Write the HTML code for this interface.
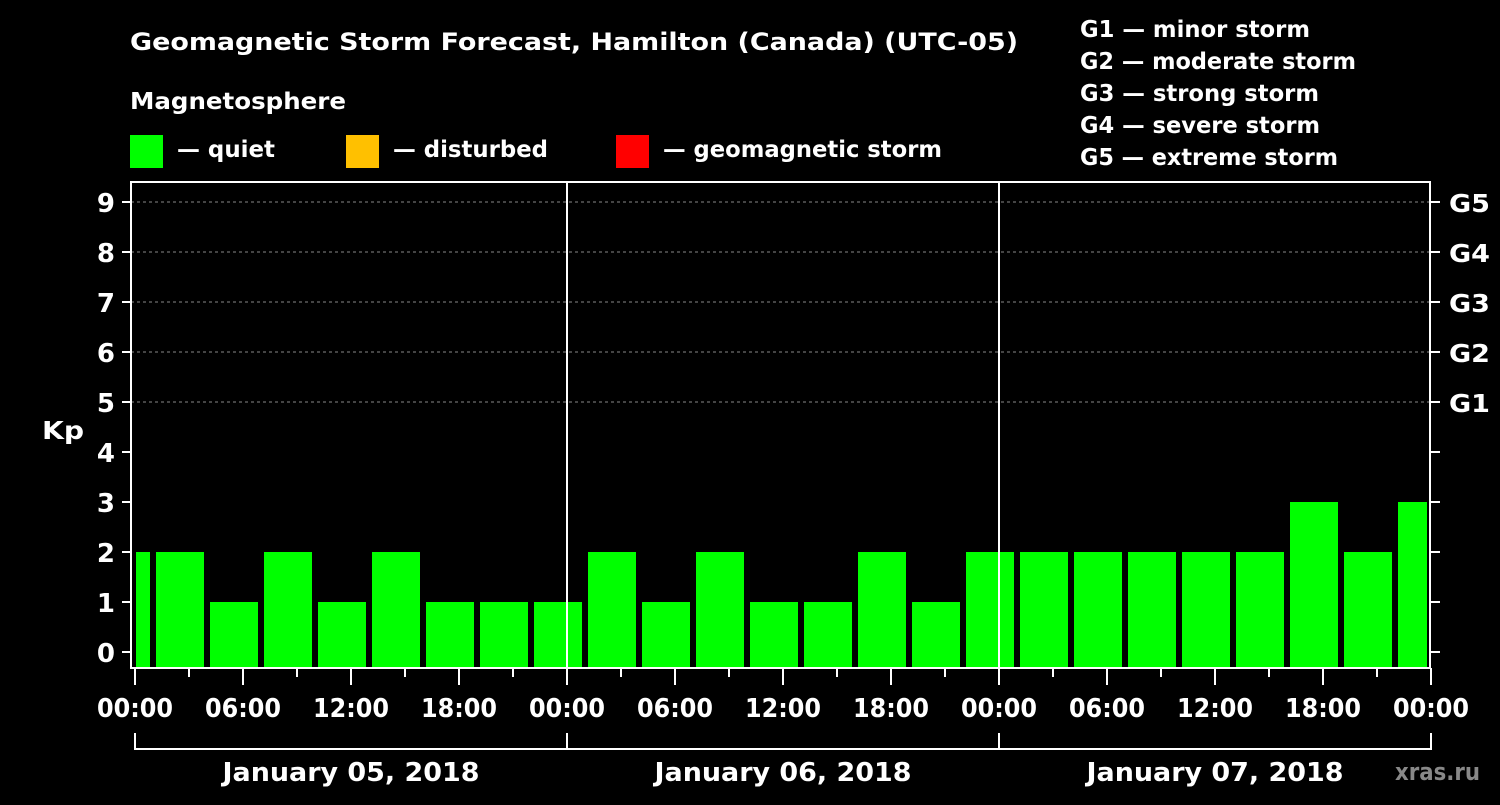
<!DOCTYPE html>
<html><head><meta charset="utf-8"><style>
body{margin:0;background:#000;width:1500px;height:800px;overflow:hidden}
svg text{font-family:"DejaVu Sans","Liberation Sans",sans-serif;font-weight:bold;fill:#fff}
</style></head><body>
<svg id="c" width="1500" height="800">
<text x="130" y="50" font-size="24" textLength="888" lengthAdjust="spacingAndGlyphs">Geomagnetic Storm Forecast, Hamilton (Canada) (UTC-05)</text>
<text x="130" y="109" font-size="23" textLength="216" lengthAdjust="spacingAndGlyphs">Magnetosphere</text>
<g>
<rect x="130" y="135" width="33" height="33" fill="#00ff00"/>
<text x="177" y="157" font-size="23" textLength="98" lengthAdjust="spacingAndGlyphs">— quiet</text>
<rect x="346" y="135" width="33" height="33" fill="#ffc000"/>
<text x="393" y="157" font-size="23" textLength="155" lengthAdjust="spacingAndGlyphs">— disturbed</text>
<rect x="616" y="135" width="33" height="33" fill="#ff0000"/>
<text x="663" y="157" font-size="23" textLength="279" lengthAdjust="spacingAndGlyphs">— geomagnetic storm</text>
</g>
<g font-size="23">
<text x="1080" y="37" textLength="230" lengthAdjust="spacingAndGlyphs">G1 — minor storm</text>
<text x="1080" y="69" textLength="276" lengthAdjust="spacingAndGlyphs">G2 — moderate storm</text>
<text x="1080" y="101" textLength="239" lengthAdjust="spacingAndGlyphs">G3 — strong storm</text>
<text x="1080" y="133" textLength="240" lengthAdjust="spacingAndGlyphs">G4 — severe storm</text>
<text x="1080" y="165" textLength="258" lengthAdjust="spacingAndGlyphs">G5 — extreme storm</text>
</g>
<text x="1395" y="780" font-size="24" textLength="85" lengthAdjust="spacingAndGlyphs" style="fill:#888">xras.ru</text>
<g id="plot"></g>
</svg>
<script>
const kpValues=[2,2,1,2,1,2,1,1,1,2,1,2,1,1,2,1,2,2,2,2,2,2,3,2,3];
const yTicks=[0,1,2,3,4,5,6,7,8,9];
const gLabels=["G1","G2","G3","G4","G5"];
const hourLabels=["00:00","06:00","12:00","18:00","00:00","06:00","12:00","18:00","00:00","06:00","12:00","18:00","00:00"];
const dayLabels=["January 05, 2018","January 06, 2018","January 07, 2018"];
const NS="http://www.w3.org/2000/svg";
const g=document.getElementById('plot');
const X0=135,PX_H=18,L=131,R=1430,T=182,B=668;
const xh=h=>X0+h*PX_H;
const yv=v=>652-v*50;
function el(t,a,txt){const e=document.createElementNS(NS,t);for(const k in a)e.setAttribute(k,a[k]);if(txt!==undefined)e.textContent=txt;g.appendChild(e);return e;}
yTicks.forEach(v=>{
 if(v>=5){const e=el('line',{x1:L,x2:R,y1:yv(v),y2:yv(v),stroke:'#888','stroke-dasharray':'3,3','stroke-width':1});
 
 }
 const t=el('line',{x1:122,x2:L,y1:yv(v),y2:yv(v),stroke:'#fff','stroke-width':2});
 
 
 const t2=el('line',{x1:R,x2:1440,y1:yv(v),y2:yv(v),stroke:'#fff','stroke-width':2});
 
 
 const lb=el('text',{x:115,y:yv(v)+10,'font-size':26,'text-anchor':'end'},String(v));
 
 
});
gLabels.forEach((s,i)=>{
 const lb=el('text',{x:1449,y:yv(5+i)+10,'font-size':25,textLength:41,lengthAdjust:'spacingAndGlyphs'},s);
 
 
});
const yt=el('text',{x:42,y:439,'font-size':25,textLength:42,lengthAdjust:'spacingAndGlyphs'},'Kp');


kpValues.forEach((v,k)=>{
 let a=xh(-2+3*k)+3,b=xh(1+3*k)-3;
 a=Math.max(a,L+5);b=Math.min(b,R-3);
 const r=el('rect',{x:a,y:yv(v),width:b-a,height:B-1-yv(v),fill:'#00ff00'});
 
 
});
[1,2].forEach(d=>{const e=el('line',{x1:xh(24*d),x2:xh(24*d),y1:T,y2:B,stroke:'#fff','stroke-width':2});
 
 });
const fr=el('rect',{x:L,y:T,width:R-L,height:B-T,fill:'none',stroke:'#fff','stroke-width':2});


for(let h=0;h<=72;h+=3){
 const e=el('line',{x1:xh(h),x2:xh(h),y1:B,y2:h%6?677:685,stroke:'#fff','stroke-width':2});
 
 
}
hourLabels.forEach((s,i)=>{
 const lb=el('text',{x:xh(i*6),y:717,'font-size':26,'text-anchor':'middle',textLength:76,lengthAdjust:'spacingAndGlyphs'},s);
 
 
});
const br=el('path',{d:`M${xh(0)},733V749H${xh(72)}V733M${xh(24)},733V749M${xh(48)},733V749`,stroke:'#fff','stroke-width':2,fill:'none'});


dayLabels.forEach((s,i)=>{
 const lb=el('text',{x:xh(24*i+12),y:781,'font-size':26,'text-anchor':'middle',textLength:257,lengthAdjust:'spacingAndGlyphs'},s);
 
 
});
</script>
</body></html>
